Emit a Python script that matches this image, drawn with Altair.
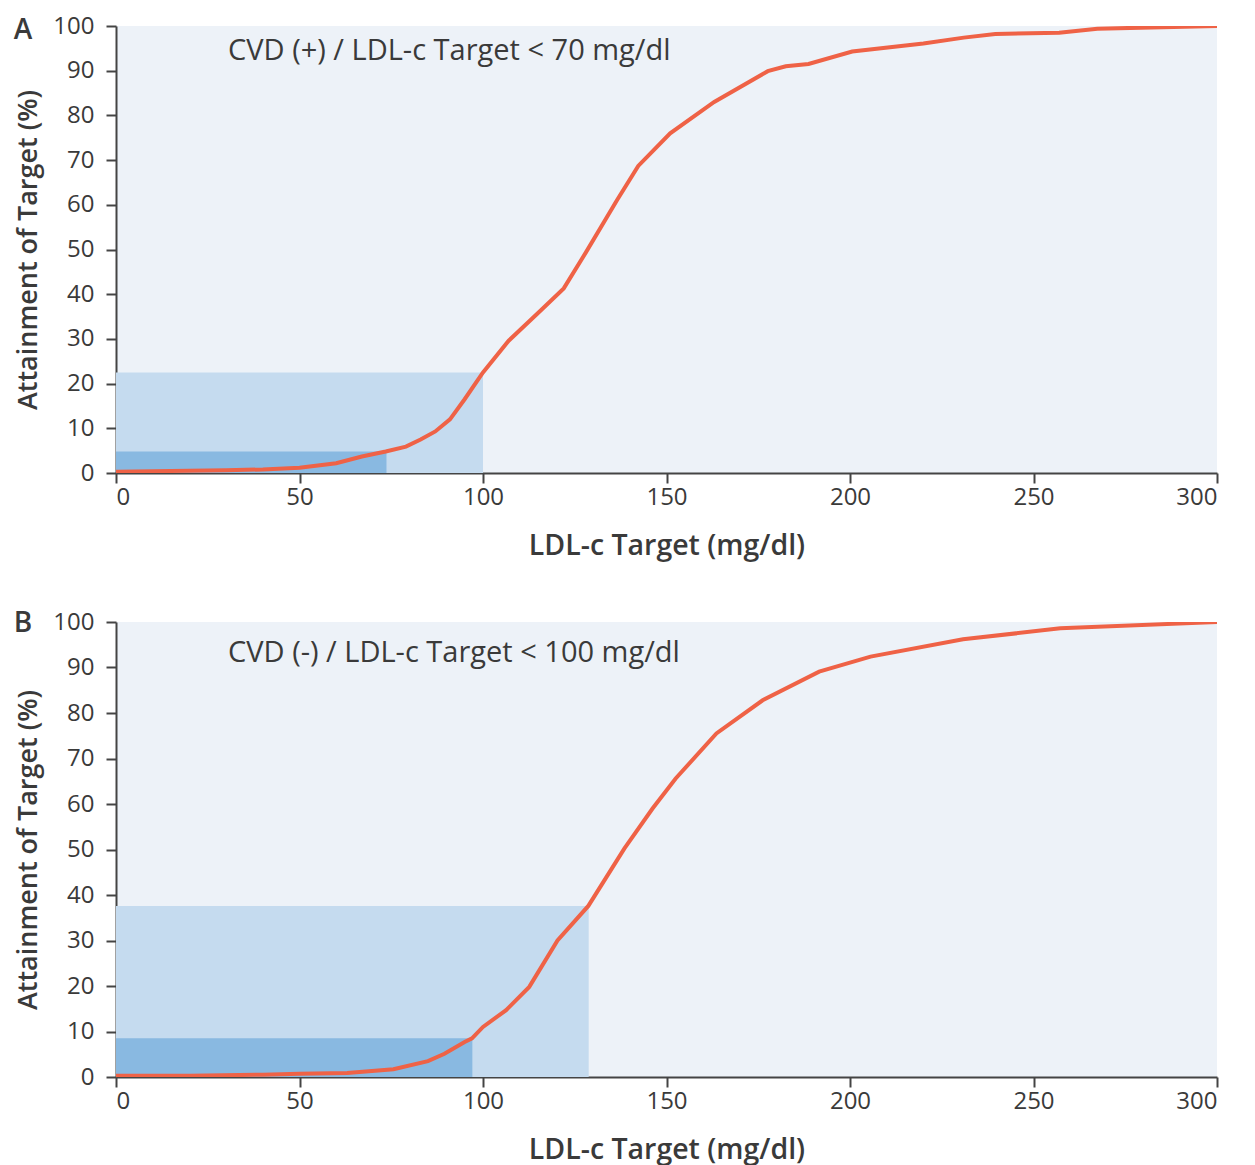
import altair as alt
import pandas as pd

# ---- data ----
ldl_a = [0, 10, 20, 30, 40, 50, 60, 67, 73.5, 79, 83, 87, 91, 95, 100, 107, 115.5, 122, 128,
         136.5, 142.3, 151, 163, 177.6, 182.5, 188.7, 200.6, 220, 231, 239.6, 257, 267.4, 300]
att_a = [0.3, 0.4, 0.5, 0.6, 0.8, 1.2, 2.2, 3.7, 4.8, 5.9, 7.5, 9.3, 12, 16.5, 22.5, 29.6, 36.2, 41.3, 49.3,
         61, 68.7, 76, 83, 89.9, 91, 91.5, 94.3, 96.1, 97.4, 98.2, 98.5, 99.4, 100]

ldl_b = [0, 20, 40, 50, 63, 75.6, 85, 89.5, 95, 97, 100, 106.3, 112.6, 120.3, 128.7, 138.5, 146.2,
         152.5, 163.6, 176.2, 191.6, 205.6, 230.8, 257.3, 300]
att_b = [0.3, 0.3, 0.5, 0.7, 0.9, 1.7, 3.5, 5.1, 7.7, 8.5, 11, 14.7, 19.8, 30, 37.6, 50.2, 59,
         65.6, 75.5, 82.8, 89.1, 92.4, 96.2, 98.6, 100]

# shaded boxes: [light, dark]
box_x2_a = [100, 73.7]
box_y2_a = [22.5, 4.8]
box_x2_b = [128.8, 97.1]
box_y2_b = [37.6, 8.5]
box_kind = ["light", "dark"]
box_rank = [0, 1]

panel_letters = ["A", "B"]
panel_notes = ["CVD (+) / LDL-c Target < 70 mg/dl", "CVD (-) / LDL-c Target < 100 mg/dl"]

x_ticks = [0, 50, 100, 150, 200, 250, 300]
y_ticks = [0, 10, 20, 30, 40, 50, 60, 70, 80, 90, 100]

FONT = "Open Sans"
DARK = "#3a3a3a"
LINE = "#ef6246"
BOX_COLORS = {"light": "#c5dbef", "dark": "#89b9e1"}

W = 1101
H_A, H_B = 447, 455


def panel(ldl, att, bx2, by2, letter, note, h, letter_y, note_y):
    curve = pd.DataFrame({"ldl": ldl, "att": att})
    boxes = pd.DataFrame({"x": [0, 0], "y": [0, 0], "x2": bx2, "y2": by2,
                          "kind": box_kind, "rank": box_rank})

    xs = alt.Scale(domain=[0, 300], nice=False)
    ys = alt.Scale(domain=[0, 100], nice=False)
    xax = alt.Axis(values=x_ticks, title="LDL-c Target (mg/dl)", titlePadding=22, titleFontSize=28.5)
    yax = alt.Axis(values=y_ticks, title="Attainment of Target (%)", titlePadding=10, titleFontSize=27)

    rects = alt.Chart(boxes).mark_rect().encode(
        x=alt.X("x:Q", scale=xs, axis=xax),
        x2="x2:Q",
        y=alt.Y("y:Q", scale=ys, axis=yax),
        y2="y2:Q",
        color=alt.Color("kind:N",
                        scale=alt.Scale(domain=list(BOX_COLORS.keys()), range=list(BOX_COLORS.values())),
                        legend=None),
        order=alt.Order("rank:Q"),
    )
    line = alt.Chart(curve).mark_line(color=LINE, strokeWidth=4, clip=True).encode(
        x=alt.X("ldl:Q", scale=xs),
        y=alt.Y("att:Q", scale=ys),
    )
    note_t = alt.Chart(pd.DataFrame({"t": [note]})).mark_text(
        font=FONT, fontSize=29, fontWeight=500, color=DARK, align="left", baseline="middle"
    ).encode(text="t:N", x=alt.value(112), y=alt.value(note_y))
    letter_t = alt.Chart(pd.DataFrame({"t": [letter]})).mark_text(
        font=FONT, fontSize=28, fontWeight=600, color=DARK, align="center", baseline="middle"
    ).encode(text="t:N", x=alt.value(-93), y=alt.value(letter_y))

    return alt.layer(rects, line, note_t, letter_t).properties(width=W, height=h)


chart_a = panel(ldl_a, att_a, box_x2_a, box_y2_a, panel_letters[0], panel_notes[0], H_A, 5, 25)
chart_b = panel(ldl_b, att_b, box_x2_b, box_y2_b, panel_letters[1], panel_notes[1], H_B, 2, 31)

chart = alt.vconcat(chart_a, chart_b, spacing=50).properties(
    padding={"left": 5, "top": 6, "right": 5, "bottom": 2}
).configure_view(
    fill="#edf2f8", strokeWidth=0
).configure_axis(
    grid=False,
    domainColor="#444444", domainWidth=2,
    tickColor="#444444", tickWidth=2, tickSize=10,
    labelFont=FONT, labelFontSize=24, labelColor=DARK,
    titleFont=FONT, titleFontWeight=600, titleColor=DARK,
).configure_axisX(labelPadding=2).configure_axisY(labelPadding=12)

chart.save("out.html", embed_options={"renderer": "svg", "actions": False})
